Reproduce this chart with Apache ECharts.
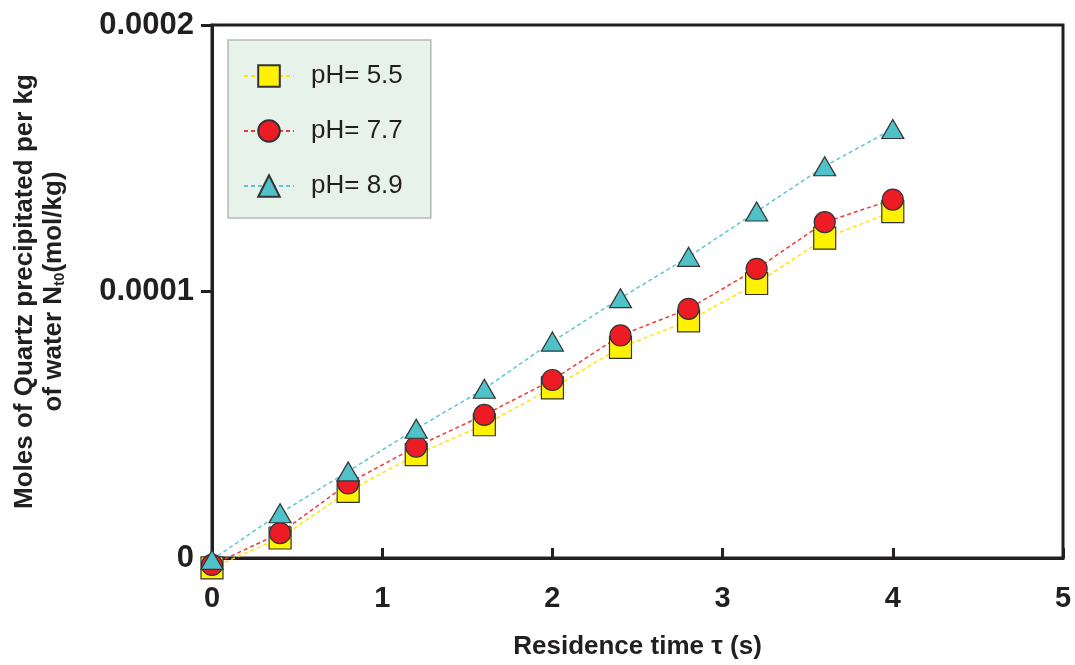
<!DOCTYPE html>
<html>
<head>
<meta charset="utf-8">
<script src="https://cdn.jsdelivr.net/npm/echarts@6/dist/echarts.min.js"></script>
<style>
  html, body { margin: 0; padding: 0; background: #fff; }
  #main { width: 1075px; height: 665px; }
</style>
</head>
<body>
<div id="main"></div>
<script>
// residence time (s)
const times = [0, 0.4, 0.8, 1.2, 1.6, 2.0, 2.4, 2.8, 3.2, 3.6, 4.0];
// moles of quartz precipitated per kg water (mol/kg)
const ph55 = [-0.037e-4, 0.075e-4, 0.25e-4, 0.388e-4, 0.50e-4, 0.638e-4, 0.79e-4, 0.89e-4, 1.03e-4, 1.20e-4, 1.30e-4];
const ph77 = [-0.026e-4, 0.093e-4, 0.28e-4, 0.418e-4, 0.537e-4, 0.668e-4, 0.835e-4, 0.935e-4, 1.085e-4, 1.26e-4, 1.345e-4];
const ph89 = [-0.007e-4, 0.168e-4, 0.325e-4, 0.485e-4, 0.635e-4, 0.812e-4, 0.975e-4, 1.13e-4, 1.30e-4, 1.47e-4, 1.61e-4];
const seriesNames = ['pH= 5.5', 'pH= 7.7', 'pH= 8.9'];

const mainEl = document.getElementById('main');
const chart = echarts.init(mainEl);

const pair = arr => times.map((t, i) => [t, arr[i]]);
const axisColor = '#231f20';
const font = '"Liberation Sans", Arial, sans-serif';

const mkSeries = (name, vals, symbol, size, fill, lineColor) => ({
    name: name,
    type: 'line',
    data: pair(vals),
    symbol: symbol,
    symbolSize: size,
    showAllSymbol: true,
    clip: false,
    itemStyle: { color: fill, borderColor: '#333', borderWidth: 1.2 },
    lineStyle: { color: lineColor, width: 1.5, type: [4, 3] }
});

const option = {
    backgroundColor: '#fff',
    animation: false,
    grid: {
        left: 212, top: 25, right: 12, bottom: 104,
        show: true, borderColor: axisColor, borderWidth: 3
    },
    legend: {
        orient: 'vertical',
        left: 228, top: 40,
        padding: [23, 28, 19, 15],
        itemGap: 29,
        itemWidth: 50,
        itemHeight: 27,
        backgroundColor: '#e7f2eb',
        borderColor: '#b5b9b6',
        borderWidth: 1.5,
        borderRadius: 0,
        textStyle: { fontFamily: font, fontSize: 26, color: '#231f20', padding: [0, 0, 0, 12] },
        data: seriesNames
    },
    xAxis: {
        type: 'value',
        min: 0, max: 5, interval: 1,
        name: 'Residence time τ (s)',
        nameLocation: 'middle',
        nameGap: 76,
        nameTextStyle: { fontFamily: font, fontSize: 26, fontWeight: 'bold', color: axisColor },
        axisLine: { lineStyle: { color: axisColor, width: 3 } },
        axisTick: { inside: true, length: 10, lineStyle: { color: axisColor, width: 3 } },
        axisLabel: { margin: 26, fontFamily: font, fontSize: 29, fontWeight: 'bold', color: axisColor },
        splitLine: { show: false }
    },
    yAxis: {
        type: 'value',
        min: 0, max: 0.0002, interval: 0.0001,
        name: '{t|Moles of Quartz precipitated per kg}\n{t|of water N}{sub|t0}{t|(mol/kg)}',
        nameLocation: 'middle',
        nameGap: 144,
        nameTextStyle: {
            fontFamily: font, fontSize: 26, fontWeight: 'bold', color: axisColor,
            rich: {
                t: { fontFamily: font, fontSize: 26, fontWeight: 'bold', color: axisColor, lineHeight: 29 },
                sub: { fontFamily: font, fontSize: 15, fontWeight: 'bold', color: axisColor, lineHeight: 29, padding: [12, 0, 0, 0] }
            }
        },
        axisLine: { lineStyle: { color: axisColor, width: 3 } },
        axisTick: { inside: false, length: 11, lineStyle: { color: axisColor, width: 3 } },
        axisLabel: {
            margin: 18, fontFamily: font, fontSize: 31, fontWeight: 'bold', color: axisColor,
            formatter: v => (v === 0 ? '0' : v.toFixed(4))
        },
        splitLine: { show: false }
    },
    series: [
        mkSeries(seriesNames[0], ph55, 'rect', 22, '#fff200', '#ffe600'),
        mkSeries(seriesNames[1], ph77, 'circle', 21, '#ed1c24', '#ee3a3a'),
        mkSeries(seriesNames[2], ph89, 'triangle', [22, 19], '#4fc1c9', '#5cc6d6')
    ]
};

chart.setOption(option);
</script>
</body>
</html>
